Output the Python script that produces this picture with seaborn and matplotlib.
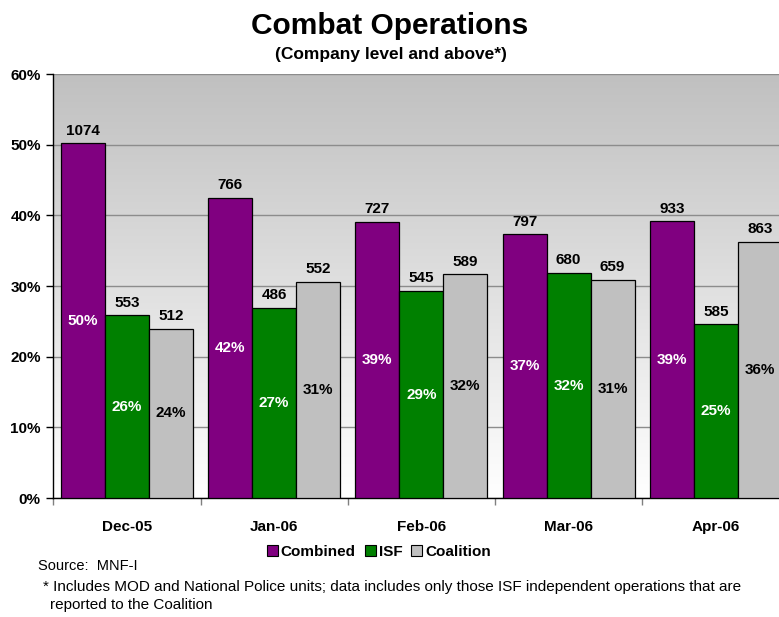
import numpy as np
import pandas as pd
import matplotlib
matplotlib.use("Agg")
import matplotlib.pyplot as plt
from matplotlib.colors import LinearSegmentedColormap
from matplotlib.patches import Patch
import seaborn as sns

# Monthly combat operation counts (company level and above)
months = ["Dec-05", "Jan-06", "Feb-06", "Mar-06", "Apr-06"]
series = ["Combined", "ISF", "Coalition"]
combined = [1074, 766, 727, 797, 933]
isf = [553, 486, 545, 680, 585]
coalition = [512, 552, 589, 659, 863]
y_ticks = [0, 10, 20, 30, 40, 50, 60]

colors = {"Combined": "#800080", "ISF": "#008000", "Coalition": "#C0C0C0"}
label_colors = {"Combined": "white", "ISF": "white", "Coalition": "black"}

counts = {"Combined": combined, "ISF": isf, "Coalition": coalition}
totals = np.array(combined) + np.array(isf) + np.array(coalition)

rows = []
for s in series:
    for m, c, t in zip(months, counts[s], totals):
        rows.append({"month": m, "series": s, "count": c, "share": 100.0 * c / t})
df = pd.DataFrame(rows)

sns.set_theme(style="white")
plt.rcParams["font.family"] = ["Liberation Sans", "DejaVu Sans"]
plt.rcParams["text.color"] = "black"
plt.rcParams["axes.labelcolor"] = "black"
plt.rcParams["xtick.color"] = "black"
plt.rcParams["ytick.color"] = "black"

W, H = 779, 617
fig = plt.figure(figsize=(W / 100, H / 100), dpi=100)
fig.patch.set_facecolor("white")

left_px, right_px, top_px, bottom_px = 53.3, 789.5, 74.0, 498.0
ax = fig.add_axes([left_px / W, 1 - bottom_px / H,
                   (right_px - left_px) / W, (bottom_px - top_px) / H])

# vertical gray-to-white backdrop of the plotting area
grad = np.linspace(1, 0, 256).reshape(-1, 1)
cmap = LinearSegmentedColormap.from_list("bg", ["#FFFFFF", "#C0C0C0"])
ax.imshow(grad, extent=[-0.5, 4.5, 0, 60], aspect="auto", cmap=cmap,
          vmin=0, vmax=1, zorder=0, origin="upper")

sns.barplot(data=df, x="month", y="share", hue="series", order=months,
            hue_order=series, palette=colors, width=0.897, gap=0,
            edgecolor="black", linewidth=0.9, saturation=1, ax=ax,
            legend=False, zorder=3)

for s, cont in zip(series, ax.containers):
    ax.bar_label(cont, labels=[str(v) for v in counts[s]], padding=4,
                 fontsize=11, fontweight="bold", color="black")
    shares = df[df.series == s]["share"].to_numpy()
    ax.bar_label(cont, labels=[f"{round(v):d}%" for v in shares],
                 label_type="center", fontsize=11, fontweight="bold",
                 color=label_colors[s])

ax.set_xlim(-0.5, 4.5)
ax.set_ylim(0, 60)
ax.set_yticks(y_ticks)
ax.set_yticklabels([f"{v}%" for v in y_ticks], fontsize=11, fontweight="bold")
ax.yaxis.grid(True, color="#8C8C8C", linewidth=1.0, zorder=1)
ax.set_axisbelow(True)

ax.set_xticks(range(len(months)))
ax.set_xticklabels(months, fontsize=11, fontweight="bold")
ax.set_xticks(np.arange(-0.5, 5, 1.0), minor=True)
ax.tick_params(axis="x", which="major", length=0, pad=16)
ax.tick_params(axis="x", which="minor", length=5, width=1, color="#808080",
               direction="out", bottom=True)
ax.tick_params(axis="y", which="major", length=5, width=1, color="black",
               direction="out", left=True, pad=4)
ax.set_xlabel("")
ax.set_ylabel("")

for side in ["top", "right"]:
    ax.spines[side].set_visible(False)
for side in ["left", "bottom"]:
    ax.spines[side].set_color("black")
    ax.spines[side].set_linewidth(1.0)

fig.text(390 / W, 1 - 26 / H, "Combat Operations", ha="center", va="center",
         fontsize=21.5, fontweight="bold", color="black")
fig.text(391 / W, 1 - 54 / H, "(Company level and above*)", ha="center",
         va="center", fontsize=12.5, fontweight="bold", color="black")

handles = [Patch(facecolor=colors[s], edgecolor="black", linewidth=0.8)
           for s in series]
fig.legend(handles, series, loc="center", bbox_to_anchor=(379 / W, 1 - 552 / H),
           ncol=3, frameon=False, handlelength=0.7, handleheight=0.7,
           handletextpad=0.2, columnspacing=0.6,
           prop={"weight": "bold", "size": 11})

fig.text(38 / W, 1 - 566 / H, "Source:  MNF-I", ha="left", va="center",
         fontsize=10.5)
fig.text(43 / W, 1 - 587 / H,
         "* Includes MOD and National Police units; data includes only those "
         "ISF independent operations that are", ha="left", va="center",
         fontsize=11)
fig.text(50 / W, 1 - 605 / H, "reported to the Coalition", ha="left",
         va="center", fontsize=11)

fig.savefig("out.png", dpi=100)
